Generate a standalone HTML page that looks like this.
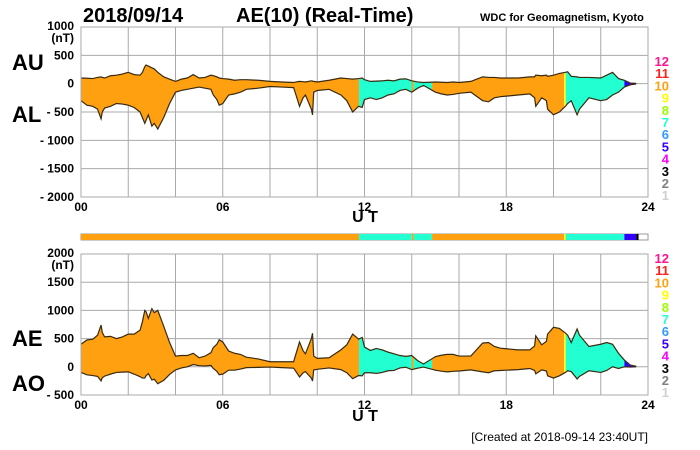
<!DOCTYPE html>
<html><head><meta charset="utf-8">
<style>
body{margin:0;background:#fff;}
svg{display:block;font-family:"Liberation Sans",sans-serif;}
</style></head>
<body>
<svg id="chart" width="700" height="450" viewBox="0 0 700 450">
<rect width="700" height="450" fill="#fff"/>
<text x="83" y="22" font-size="20" font-weight="bold">2018/09/14</text>
<text x="236" y="22" font-size="20" font-weight="bold">AE(10) (Real-Time)</text>
<text x="480" y="21" font-size="11" font-weight="bold">WDC for Geomagnetism, Kyoto</text>
<text x="12" y="70" font-size="22" font-weight="bold">AU</text>
<text x="12" y="122" font-size="22" font-weight="bold">AL</text>
<text x="12" y="346" font-size="22" font-weight="bold">AE</text>
<text x="12" y="391" font-size="22" font-weight="bold">AO</text>
<text x="365" y="222" font-size="16" font-weight="bold" text-anchor="middle">U T</text>
<text x="365" y="421" font-size="16" font-weight="bold" text-anchor="middle">U T</text>
<text x="648" y="441" font-size="12" text-anchor="end">[Created at 2018-09-14 23:40UT]</text>
<g id="top"></g>
<g id="bot"></g>
<g id="bar"></g>
<g id="leg"></g>
</svg>
<script>
const hours=[0,0.25,0.5,0.7,0.85,0.9,1,1.25,1.5,1.75,2,2.25,2.5,2.6,2.7,2.75,2.85,3,3.1,3.25,3.5,3.75,4,4.25,4.5,4.75,5,5.25,5.5,5.6,5.75,5.85,6,6.25,6.5,6.75,7,7.5,8,8.5,9,9.1,9.25,9.4,9.5,9.75,9.8,9.85,10,10.5,11,11.25,11.5,11.75,11.9,12,12.25,12.5,12.75,13,13.25,13.5,13.75,14,14.25,14.5,15,15.25,15.5,15.75,16,16.5,17,17.25,17.5,17.75,18,18.5,19,19.2,19.25,19.5,19.7,19.75,20,20.25,20.5,20.6,20.75,21,21.1,21.5,22,22.25,22.5,22.75,23,23.25,23.5];
const auValues=[100,95,90,110,120,110,100,140,150,170,200,160,150,200,300,330,310,280,260,200,120,80,40,80,100,160,100,110,150,140,120,100,90,80,60,70,70,60,40,30,20,30,40,35,30,50,45,40,30,60,100,90,80,90,100,70,40,45,50,60,50,80,85,50,30,20,30,25,20,30,20,40,120,110,110,100,100,100,120,120,150,140,150,130,150,180,200,210,130,120,110,110,100,150,200,90,60,10,5];
const alValues=[-300,-380,-400,-450,-620,-500,-430,-400,-350,-360,-380,-420,-500,-600,-700,-650,-550,-750,-700,-800,-600,-350,-150,-120,-100,-80,-60,-80,-100,-200,-280,-380,-350,-200,-180,-150,-100,-80,-50,-60,-70,-200,-400,-250,-200,-450,-550,-150,-120,-100,-200,-300,-500,-400,-420,-280,-250,-280,-250,-200,-180,-120,-100,-150,-80,-30,-150,-180,-200,-190,-170,-150,-300,-320,-250,-230,-220,-200,-180,-250,-400,-250,-300,-450,-550,-500,-400,-350,-300,-550,-450,-250,-300,-280,-200,-150,-60,-20,-5];
const segStart=[0,11.77,14.0,14.08,14.86,20.45,20.52,23.0,23.5];
const segEnd=[11.77,14.0,14.08,14.86,20.45,20.52,23.0,23.5,23.6];
const segCount=[10,7,10,7,10,9,7,5,3];
const yTicksTop=[1000,500,0,-500,-1000,-1500,-2000];
const yTicksBot=[2000,1500,1000,500,0,-500];
const xTicks=[0,6,12,18,24];
const xTickLabels=["00","06","12","18","24"];
const legendCounts=[12,11,10,9,8,7,6,5,4,3,2,1];
const colorOf={12:"#ff1493",11:"#ff2020",10:"#ffa010",9:"#ffff00",8:"#99ff00",7:"#22ffd0",6:"#3399ff",5:"#3300ff",4:"#ff00ff",3:"#000000",2:"#808080",1:"#d0d0d0"};

const NS="http://www.w3.org/2000/svg";
const X0=81,X1=648;
const xs=h=>X0+(X1-X0)*h/24;
function el(tag,attrs,parent){const e=document.createElementNS(NS,tag);for(const k in attrs)e.setAttribute(k,attrs[k]);parent.appendChild(e);return e;}

function panel(g,yTop,yBot,vMax,vMin,ticks,upper,lower,id){
  const ys=v=>yTop+(vMax-v)*(yBot-yTop)/(vMax-vMin);
  for(let h=0;h<=24;h+=2){const l=el("line",{x1:xs(h),x2:xs(h),y1:yTop,y2:yBot,stroke:"#aaa","stroke-width":1},g);
    
    }
  ticks.forEach((t,i)=>{const l=el("line",{x1:X0,x2:X1,y1:ys(t),y2:ys(t),stroke:"#aaa","stroke-width":1},g);
    
    
    const tx=el("text",{x:74,y:ys(t)+(i==0?3:4),"font-size":12,"font-weight":"bold","text-anchor":"end"},g);
    tx.textContent=(t<0?"- "+(-t):String(t));
    
    
    if(i==0){const u=el("text",{x:74,y:ys(t)+15,"font-size":12,"font-weight":"bold","text-anchor":"end"},g);u.textContent="(nT)";
      
      }
  });
  xTicks.forEach((h,i)=>{const tx=el("text",{x:xs(h),y:yBot+14,"font-size":12,"font-weight":"bold","text-anchor":"middle"},g);tx.textContent=xTickLabels[i];
    
    });
  let pts=hours.map((h,i)=>xs(h)+","+ys(upper[i]));
  let pts2=hours.map((h,i)=>xs(h)+","+ys(lower[i])).reverse();
  const poly=pts.concat(pts2).join(" ");
  segStart.forEach((s,i)=>{
    const cid=id+"clip"+i;
    const cp=el("clipPath",{id:cid},g);
    el("rect",{x:xs(s),y:yTop,width:Math.max(0,xs(segEnd[i])-xs(s)),height:yBot-yTop},cp);
    const p=el("polygon",{points:poly,fill:colorOf[segCount[i]],"clip-path":"url(#"+cid+")"},g);
    
    
  });
  const a=el("polyline",{points:pts.join(" "),fill:"none",stroke:"#3a2a10","stroke-width":1.2},g);
  
  
  const b=el("polyline",{points:pts2.join(" "),fill:"none",stroke:"#3a2a10","stroke-width":1.2},g);
  
  
  const f=el("rect",{x:X0,y:yTop,width:X1-X0,height:yBot-yTop,fill:"none",stroke:"#aaa"},g);
  
  
}
const aeValues=auValues.map((u,i)=>u-alValues[i]);
const aoValues=auValues.map((u,i)=>(u+alValues[i])/2);
panel(document.getElementById("top"),27,197,1000,-2000,yTicksTop,auValues,alValues,"t");
panel(document.getElementById("bot"),254,395,2000,-500,yTicksBot,aeValues,aoValues,"b");

const bar=document.getElementById("bar");
const br=el("rect",{x:X0,y:234,width:X1-X0,height:6,fill:"#fff",stroke:"#999"},bar);


segStart.forEach((s,i)=>{const r=el("rect",{x:xs(s),y:234,width:xs(segEnd[i])-xs(s),height:6,fill:colorOf[segCount[i]]},bar);
  
  });

const leg=document.getElementById("leg");
[[61,12.2],[258,12.2]].forEach(([y0,dy])=>{
  legendCounts.forEach((c,i)=>{const t=el("text",{x:669,y:y0+i*dy+5,"font-size":13,"font-weight":"bold","text-anchor":"end",fill:colorOf[c]},leg);t.textContent=c;
    
    });
});
</script>
</body></html>
